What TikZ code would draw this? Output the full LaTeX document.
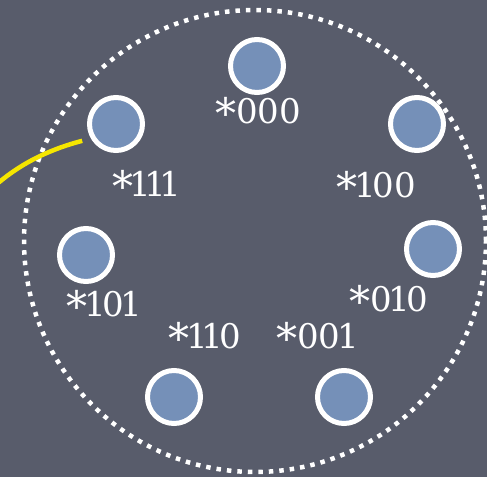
\documentclass[tikz,border=0pt]{standalone}
\usepackage{fontspec}
\newfontfamily\labelfont{DejaVu Serif}
\usepackage{tikz}
\definecolor{board}{HTML}{585C6B}
\definecolor{dotfill}{HTML}{7590B8}
\definecolor{chalkyellow}{HTML}{F5E600}
\newcommand{\peerstar}{\makebox[21pt][l]{\raisebox{-5pt}{\fontsize{42}{42}\selectfont *}}}
\newcommand{\pone}{\makebox[15pt][c]{1}}
\tikzset{
  peer/.style={circle, draw=white, fill=dotfill, line width=5pt, minimum size=53pt, inner sep=0pt},
  idlabel/.style={text=white, inner sep=0pt, font=\labelfont\fontsize{34}{34}\selectfont},
  ring/.style={draw=white, line width=4.5pt, dash pattern=on 4.5pt off 6pt},
  link/.style={draw=chalkyellow, line width=4.5pt}
}
\begin{document}
\begin{tikzpicture}[x=1pt,y=-1pt]
\useasboundingbox (0,0) rectangle (487,477);
\fill[board] (0,0) rectangle (487,477);
\draw[ring] (255,241) circle (231pt);
\node[peer] (n000) at (257,66) {};
\node[peer] (n111) at (116,124) {};
\node[peer] (n100) at (417,124) {};
\node[peer] (n101) at (86,255) {};
\node[peer] (n010) at (433,249) {};
\node[peer] (n110) at (174,397) {};
\node[peer] (n001) at (344,397) {};
\node[idlabel] (l000) at (258,113) {\peerstar000};
\node[idlabel] (l111) at (145,186) {\peerstar\pone\pone\pone};
\node[idlabel] (l100) at (376,187) {\peerstar\pone00};
\node[idlabel] (l101) at (103,306) {\peerstar\pone0\pone};
\node[idlabel] (l010) at (389,301) {\peerstar0\pone0};
\node[idlabel] (l110) at (205,338) {\peerstar\pone\pone0};
\node[idlabel] (l001) at (316,338) {\peerstar00\pone};
\coordinate (yend) at (-3,184);
\draw[link, shorten <=9pt] (n111.210) .. controls (55,148) and (25,160) .. (yend);
\end{tikzpicture}
\end{document}
